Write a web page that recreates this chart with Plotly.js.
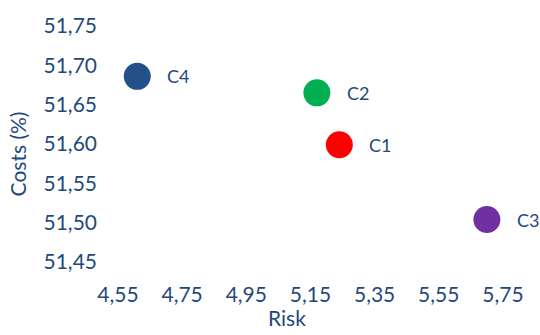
<!DOCTYPE html>
<html>
<head>
<meta charset="utf-8">
<script src="https://cdn.plot.ly/plotly-3.0.1.min.js"></script>
<style>
  html, body { margin: 0; padding: 0; background: #fff; }
  #chart { width: 540px; height: 335px; }
</style>
</head>
<body>
<div id="chart"></div>
<script>
// Cost / risk trade-off of the four candidate configurations
const names = ['C1', 'C2', 'C3', 'C4'];
const risk = [5.24, 5.17, 5.70, 4.61];
const costs = [51.599, 51.665, 51.504, 51.686];
const colors = ['#FF0000', '#00B050', '#7030A0', '#24508A'];

const xTicks = [4.55, 4.75, 4.95, 5.15, 5.35, 5.55, 5.75];
const yTicks = [51.45, 51.50, 51.55, 51.60, 51.65, 51.70, 51.75];

const ink = '#1F497D';
const face = 'Lato, "Open Sans", sans-serif';

const trace = {
  type: 'scatter',
  mode: 'markers',
  x: risk,
  y: costs,
  marker: { size: 27, color: colors, line: { width: 0 } },
  cliponaxis: false,
  hoverinfo: 'skip'
};

// point labels sit to the right of each marker
const pointLabels = names.map((n, i) => ({
  x: risk[i], y: costs[i], xref: 'x', yref: 'y',
  text: n, showarrow: false, xanchor: 'left', yanchor: 'middle',
  xshift: 28, font: { family: face, size: 18, color: ink }
}));

const axisTitles = [
  { text: 'Risk', xref: 'paper', yref: 'paper', x: 0.406, y: -0.237,
    xanchor: 'center', yanchor: 'middle', showarrow: false,
    font: { family: face, size: 21, color: ink } },
  { text: 'Costs (%)', xref: 'paper', yref: 'paper', x: -0.241, y: 0.458,
    xanchor: 'center', yanchor: 'middle', showarrow: false, textangle: -90,
    font: { family: face, size: 21, color: ink } }
];

const layout = {
  width: 540, height: 335,
  margin: { l: 117.5, r: 5, t: 26, b: 73 },
  paper_bgcolor: '#fff', plot_bgcolor: '#fff',
  showlegend: false,
  font: { family: face, color: ink, size: 21 },
  separators: ',.',
  xaxis: {
    range: [4.55, 5.85], tickvals: xTicks, tickformat: '.2f',
    showgrid: false, zeroline: false, showline: false, ticks: '',
    ticklabelstandoff: 18
  },
  yaxis: {
    range: [51.45, 51.75], tickvals: yTicks, tickformat: '.2f',
    showgrid: false, zeroline: false, showline: false, ticks: '',
    ticklabelstandoff: 20
  },
  annotations: pointLabels.concat(axisTitles)
};

Plotly.newPlot('chart', [trace], layout, { staticPlot: true, displayModeBar: false });
</script>
</body>
</html>
